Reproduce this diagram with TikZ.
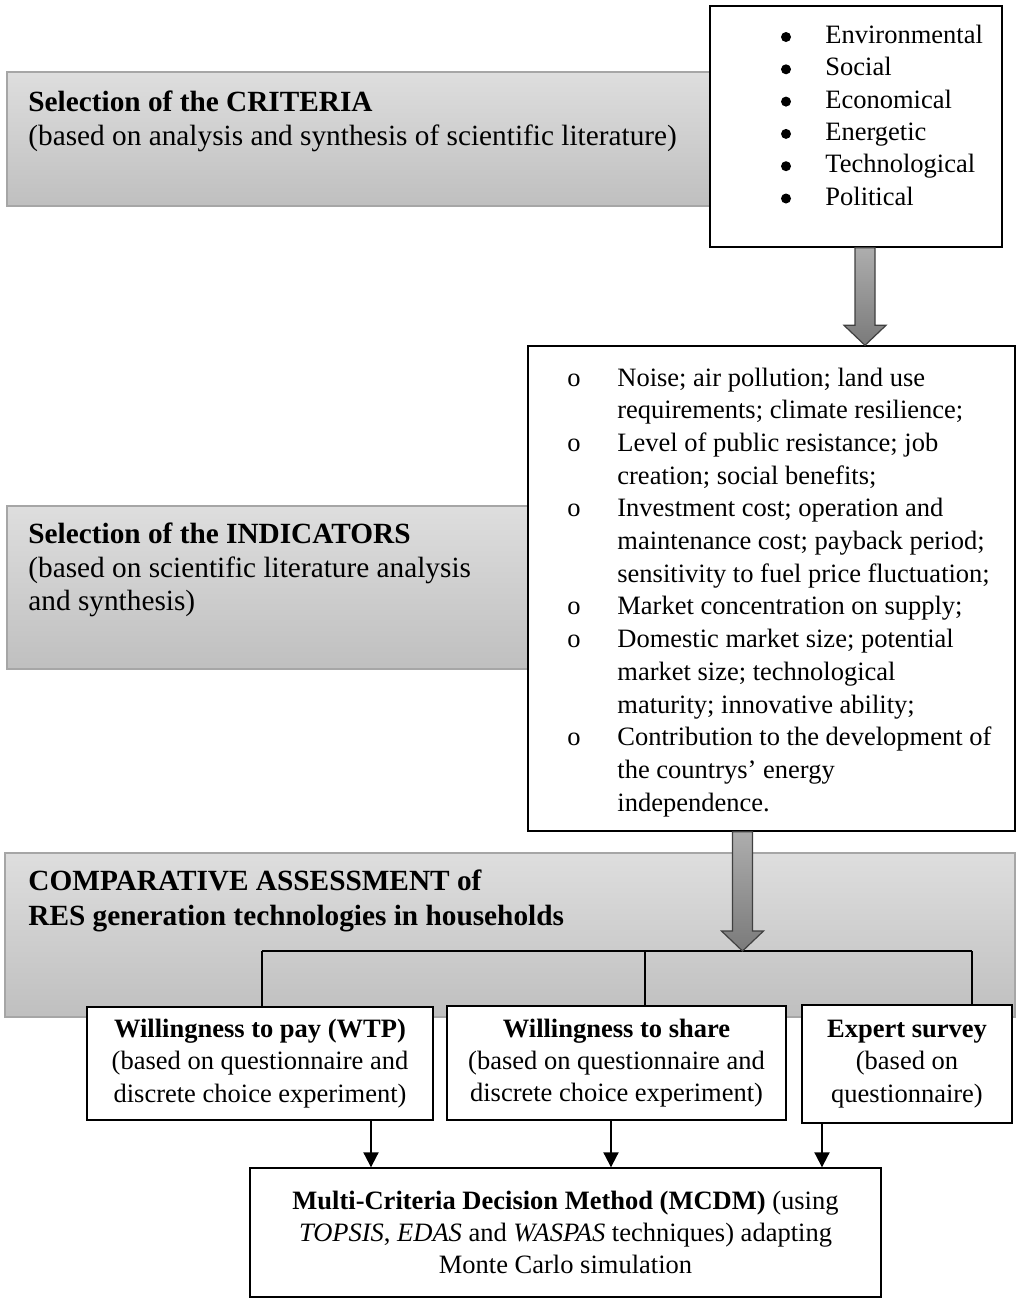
\documentclass[tikz,border=0pt]{standalone}
\usepackage{fontspec}
\setmainfont{Liberation Serif}
\usetikzlibrary{calc,arrows.meta}
\tikzset{>=Triangle}

\newcommand{\listfont}{\fontsize{13.25}{16.1}\selectfont}
\newcommand{\headfont}{\fontsize{14.65}{17}\selectfont}

\tikzstyle{graybox} = [draw=black!35, line width=0.75pt, top color=black!13, bottom color=black!25]
\tikzstyle{whitebox} = [draw, fill=white, line width=0.7pt, inner sep=0pt, align=center, font=\listfont]
\tikzstyle{fatarrow} = [draw=black!75, line width=0.6pt, top color=black!32, bottom color=black!52]
\tikzstyle{line} = [draw, line width=1pt, -{Triangle[length=7.5pt,width=7.5pt]}]

% gray block arrow from #1 down to #2
\newcommand{\fatarrow}[2]{%
  \path[fatarrow] let \p1=(#1), \p2=(#2) in
    (\x1-5pt,\y1) -- (\x1+5pt,\y1) -- (\x1+5pt,\y2+10pt) -- (\x1+10.5pt,\y2+10pt)
    -- (\x1,\y2) -- (\x1-10.5pt,\y2+10pt) -- (\x1-5pt,\y2+10pt) -- cycle;}

\begin{document}
\begin{tikzpicture}[x=0.5pt, y=-0.5pt,
	head/.style={anchor=base west, font=\headfont\bfseries, inner sep=0pt},
	sub/.style={anchor=base west, font=\headfont, inner sep=0pt},
	item/.style={anchor=base west, font=\listfont, inner sep=0pt},
	dot/.style={anchor=base, font=\listfont, inner sep=0pt},
	bigdot/.style={circle, fill, inner sep=0pt, minimum size=5pt}]
	\useasboundingbox (0,0) rectangle (1017,1303);
	%% gray backgrounds
	\path[graybox] (7,72) rectangle (712,206);
	\path[graybox] (7,506) rectangle (530,669);
	\path[graybox] (5,853) rectangle (1015,1017);
	%% headings
	\node[head] (critH) at (28,111) {Selection of the CRITERIA};
	\node[sub] (critS) at (28,145) {(based on analysis and synthesis of scientific literature)};
	\node[head] (indH) at (28,543) {Selection of the INDICATORS};
	\node[sub] (indS1) at (28,577) {(based on scientific literature analysis};
	\node[sub] (indS2) at (28,610) {and synthesis)};
	\node[head] (cmpH1) at (28,890) {COMPARATIVE ASSESSMENT of};
	\node[head] (cmpH2) at (28,925) {RES generation technologies in households};
	%% list boxes
	\node[whitebox, minimum width=146pt, minimum height=120.5pt] (crit) at (856,126.5) {};
	\node[whitebox, minimum width=243.5pt, minimum height=242.5pt] (ind) at (771.5,588.5) {};
	\foreach \txt [count=\i from 0] in {Environmental, Social, Economical, Energetic, Technological, Political}{
		\node[bigdot] (cb\i) at (786,37+32.3*\i) {};
		\node[item] (ci\i) at (825,43.5+32.3*\i) {\txt};
	}
	\foreach \txt [count=\i from 0] in {{Noise; air pollution; land use},
		{requirements; climate resilience;},
		{Level of public resistance; job},
		{creation; social benefits;},
		{Investment cost; operation and},
		{maintenance cost; payback period;},
		{sensitivity to fuel price fluctuation;},
		{Market concentration on supply;},
		{Domestic market size; potential},
		{market size; technological},
		{maturity; innovative ability;},
		{Contribution to the development of},
		{the countrys’ energy},
		{independence.}}{
		\node[item] (il\i) at (617,386+32.7*\i) {\txt};
	}
	\foreach \i in {0,2,4,7,8,11}
		\node[dot] (ib\i) at (574,386+32.7*\i) {o};
	%% survey boxes
	\node[whitebox, minimum width=173pt, minimum height=56.5pt] (wtp) at (260,1063.5)
	{\textbf{Willingness to pay (WTP)}\\(based on questionnaire and\\discrete choice experiment)};
	\node[whitebox, minimum width=169.5pt, minimum height=57pt] (share) at (616.5,1063)
	{\textbf{Willingness to share}\\(based on questionnaire and\\discrete choice experiment)};
	\node[whitebox, minimum width=105pt, minimum height=59pt] (expert) at (907,1064)
	{\textbf{Expert survey}\\(based on\\questionnaire)};
	\node[whitebox, minimum width=315.5pt, minimum height=64.5pt] (mcdm) at (565.5,1232.5)
	{\textbf{Multi-Criteria Decision Method (MCDM)} (using\\\textit{TOPSIS}, \textit{EDAS} and \textit{WASPAS} techniques) adapting\\Monte Carlo simulation};
	%% branching bar
	\coordinate (d1) at (262,951);
	\coordinate (d2) at (645,951);
	\coordinate (d3) at (972,951);
	\draw[line width=1pt] (d1) -- (d3);
	\draw[line width=0.75pt] (d1) -- (d1 |- wtp.north);
	\draw[line width=0.75pt] (d2) -- (d2 |- share.north);
	\draw[line width=0.75pt] (d3) -- (d3 |- expert.north);
	%% block arrows
	\coordinate (a1s) at ([xshift=4.5pt]crit.south);
	\coordinate (a1e) at (a1s |- ind.north);
	\coordinate (a2s) at ([xshift=-14.5pt]ind.south);
	\coordinate (a2e) at (a2s |- d1);
	\fatarrow{a1s}{a1e}
	\fatarrow{a2s}{a2e}
	%% arrows to MCDM
	\coordinate (x1) at (371,0);
	\coordinate (x2) at (611,0);
	\coordinate (x3) at (822,0);
	\path [line] (wtp.south -| x1) to (x1 |- mcdm.north);
	\path [line] (share.south -| x2) to (x2 |- mcdm.north);
	\path [line] (expert.south -| x3) to (x3 |- mcdm.north);
\end{tikzpicture}
\end{document}
